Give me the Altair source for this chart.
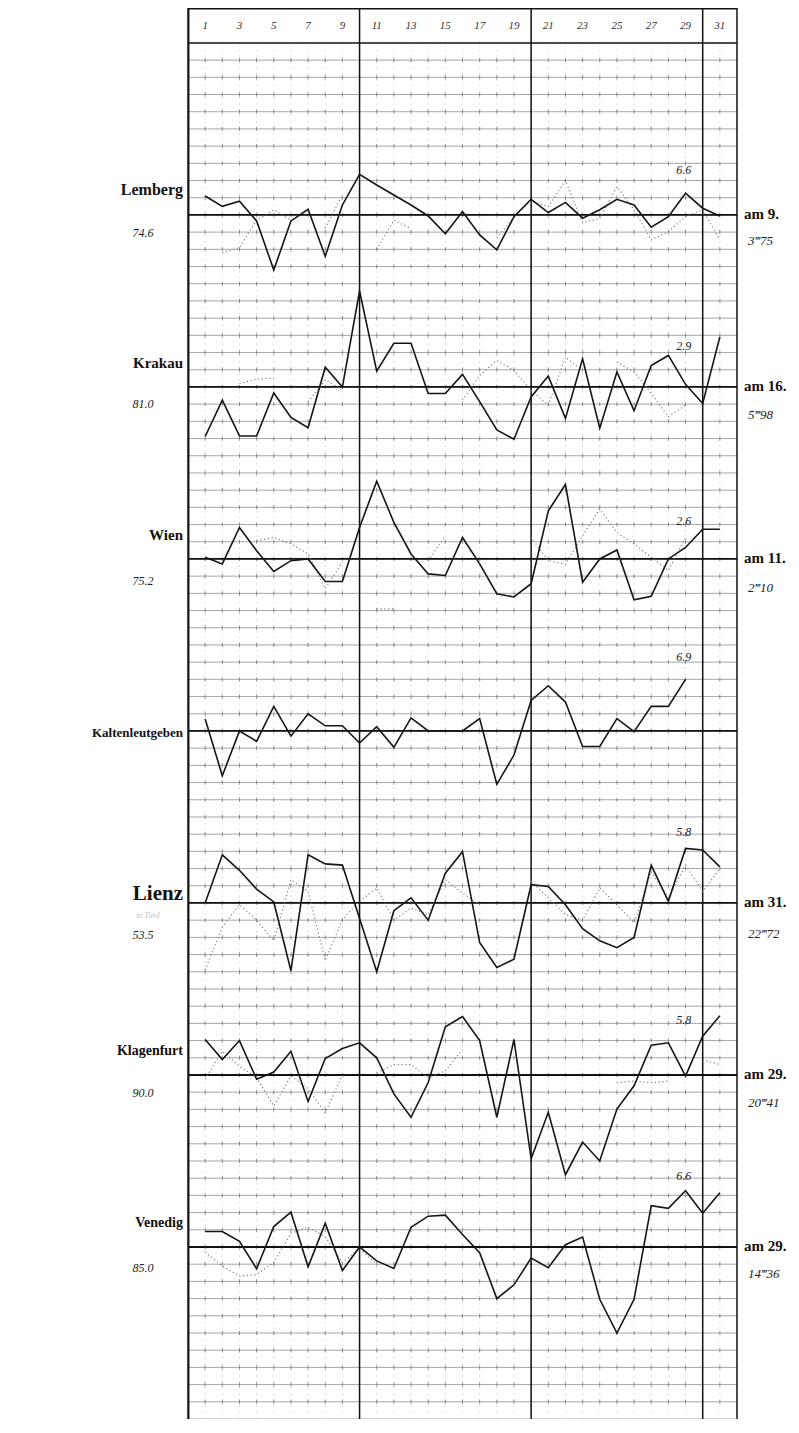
import altair as alt
import pandas as pd

# ---------------- data ----------------
days = list(range(1, 32))
header_days = list(range(1, 32, 2))
stations = ["Lemberg", "Krakau", "Wien", "Kaltenleutgeben", "Lienz", "Klagenfurt", "Venedig"]
means = ["74.6", "81.0", "75.2", "", "53.5", "90.0", "85.0"]
max_dates = ["am 9.", "am 16.", "am 11.", "", "am 31.", "am 29.", "am 29."]
max_totals = ["3\u203475", "5\u203498", "2\u203410", "", "22\u203472", "20\u203441", "14\u203436"]
peak_marks = ["6.6", "2.9", "2.6", "6.9", "5.8", "5.8", "6.6"]

# solid curves: deviation from the station's base line (grid units), days 1..31
lemberg = [1.1, 0.5, 0.8, -0.35, -3.2, -0.35, 0.33, -2.4, 0.58, 2.36, 1.74, 1.16, 0.58, -0.06, -1.1, 0.2,
           -1.16, -2.03, -0.1, 0.91, 0.14, 0.73, -0.19, 0.3, 0.91, 0.58, -0.71, -0.1, 1.26, 0.39, -0.06]
krakau = [-2.88, -0.77, -2.85, -2.85, -0.35, -1.77, -2.37, 1.15, 0.0, 5.58, 0.92, 2.54, 2.54, -0.38, -0.38, 0.73,
          -0.85, -2.5, -3.04, -0.58, 0.63, -1.83, 1.63, -2.4, 0.87, -1.38, 1.25, 1.83, 0.15, -0.96, 2.9]
wien = [0.1, -0.29, 1.83, 0.48, -0.73, -0.1, 0.0, -1.31, -1.31, 1.83, 4.52, 2.12, 0.29, -0.87, -0.96, 1.25,
        -0.29, -2.02, -2.21, -1.44, 2.79, 4.33, -1.35, 0.0, 0.52, -2.37, -2.17, 0.0, 0.67, 1.73, 1.73]
kalten = [0.69, -2.6, 0.0, -0.6, 1.43, -0.3, 1.0, 0.3, 0.3, -0.7, 0.25, -0.95, 0.76, 0.0, 0.0, 0.0,
          0.72, -3.1, -1.4, 1.77, 2.63, 1.68, -0.9, -0.9, 0.72, -0.04, 1.43, 1.43, 3.0, None, None]
lienz = [0.0, 2.8, 1.9, 0.8, 0.06, -3.94, 2.8, 2.27, 2.2, -0.9, -4.0, -0.45, 0.3, -1.0, 1.73, 2.98,
         -2.3, -3.75, -3.27, 1.06, 0.96, -0.1, -1.5, -2.2, -2.6, -2.0, 2.2, 0.1, 3.17, 3.08, 2.1]
klagenfurt = [2.06, 0.9, 2.0, -0.25, 0.17, 1.38, -1.54, 0.96, 1.54, 1.87, 1.0, -1.1, -2.46, -0.44, 2.8, 3.4,
              2.0, -2.46, 2.06, -4.87, -2.17, -5.8, -3.9, -5.0, -1.98, -0.63, 1.73, 1.87, -0.06, 2.25, 3.44]
venedig = [0.9, 0.9, 0.33, -1.27, 1.19, 2.02, -1.15, 1.38, -1.37, 0.0, -0.81, -1.25, 1.15, 1.79, 1.85, 0.73,
           -0.33, -3.0, -2.2, -0.65, -1.21, 0.13, 0.58, -3.04, -5.0, -3.04, 2.4, 2.25, 3.27, 1.96, 3.15]

# dotted curves (None = not drawn)
lemberg_d = [None, -2.2, -1.9, -0.3, 0.3, -0.3, None, -0.77, 1.16, None, -2.0, -0.3, -0.8, None, None, None,
             None, -1.35, -0.1, 0.8, 0.48, 2.0, -0.45, -0.2, 1.64, 0.3, -1.45, -0.97, -0.1, 0.3, -1.45]
krakau_d = [None, None, 0.2, 0.45, 0.5, None, -0.87, 0.4, -0.2, None, -1.0, None, None, None, None, -0.77,
            0.67, 1.54, 0.96, -0.2, -1.06, 1.73, 0.96, None, 1.44, 0.87, -0.38, -1.73, -1.06, None, -2.2]
wien_d = [0.1, None, None, 1.05, 1.25, 0.87, 0.29, -1.73, -0.19, None, -2.9, -2.9, None, -0.1, 1.35, None,
          None, None, None, 1.25, -0.1, -0.3, 1.35, 2.9, 1.54, 0.87, 0.1, -0.67, 1.25, None, None]
kalten_d = [None] * 31
lienz_d = [-3.9, -1.4, -0.1, -1.0, -2.2, 1.35, 0.67, -3.35, -0.96, 0.1, 0.87, -1.0, -0.3, -0.7, 1.35, 0.58,
           -0.1, None, None, 1.25, 0.3, -0.67, -1.0, 0.87, -0.1, -1.15, 1.83, 0.29, 2.2, 0.67, 2.0]
klagenfurt_d = [-0.25, 1.38, 0.5, -0.15, -1.8, -0.06, -0.8, -2.2, 0.0, None, 0.13, 0.6, 0.6, -0.15, 0.23, 1.48,
                None, None, None, None, -0.45, None, 0.8, None, -0.45, -0.35, -0.45, -0.35, None, 0.9, 0.6]
venedig_d = [-0.3, -1.1, -1.7, -1.6, -0.9, 0.8, 1.15, 0.6, -0.9, -0.1, -1.0, None, None, None, 0.4, None,
             None, -0.3, None, None, None, None, 1.0, None, 0.4, None, None, None, None, None, -1.3]

solid = [lemberg, krakau, wien, kalten, lienz, klagenfurt, venedig]
dotted = [lemberg_d, krakau_d, wien_d, kalten_d, lienz_d, klagenfurt_d, venedig_d]

# ---------------- layout ----------------
TOP = 82.03
W, H = 549, 1411
base = {s: 70 - 10 * i for i, s in enumerate(stations)}
name_off = {"Lemberg": 1.45, "Krakau": 1.4, "Wien": 1.4, "Kaltenleutgeben": -0.1,
            "Lienz": 0.5, "Klagenfurt": 1.4, "Venedig": 1.4}
name_fs = {"Lemberg": 16, "Krakau": 15, "Wien": 15, "Kaltenleutgeben": 13,
           "Lienz": 21, "Klagenfurt": 14, "Venedig": 14}
mean_off = {"Lemberg": -1.05, "Krakau": -1.0, "Wien": -1.3, "Lienz": -1.85, "Klagenfurt": -1.05, "Venedig": -1.2}
total_off = {"Lemberg": -1.5, "Krakau": -1.65, "Wien": -1.7, "Lienz": -1.8, "Klagenfurt": -1.6, "Venedig": -1.55}
peak_off = {"Lemberg": 2.6, "Krakau": 2.4, "Wien": 2.2, "Kaltenleutgeben": 4.3,
            "Lienz": 4.1, "Klagenfurt": 3.2, "Venedig": 4.1}

xs = alt.Scale(domain=[0, 32], nice=False, zero=False)
ys = alt.Scale(domain=[0, TOP], nice=False, zero=False)


def X(f="day"):
    return alt.X(f"{f}:Q", scale=xs, axis=None)


def Y(f="row"):
    return alt.Y(f"{f}:Q", scale=ys, axis=None)


def XD(v):
    return alt.X(datum=v, scale=xs, axis=None)


def long(series_list):
    rows = []
    for i, s in enumerate(stations):
        seg = 0
        prev = False
        for d, v in zip(days, series_list[i]):
            if v is None:
                if prev:
                    seg += 1
                prev = False
                continue
            prev = True
            rows.append({"station": s, "seg": f"{s}-{seg}", "day": d, "row": base[s] + v})
    return pd.DataFrame(rows)


df_solid = long(solid)
df_dot = long(dotted)

grid_rows = pd.DataFrame({"row": list(range(0, 80))})
base_rows = pd.DataFrame({"row": [base[s] for s in stations]})
frame_rows = pd.DataFrame({"row": [80, TOP - 0.05]})
day_cols = pd.DataFrame({"day": days})
thick_cols = pd.DataFrame({"day": [10, 20, 30, 32]})
left_col = pd.DataFrame({"day": [0.02]})
crosses = pd.DataFrame([{"day": d, "row": r} for d in days for r in range(1, 80)])

hgrid = alt.Chart(grid_rows).mark_rule(color="#6a6a6a", strokeWidth=0.6).encode(y=Y())
vgrid = alt.Chart(day_cols).mark_rule(color="#c4c4c4", strokeWidth=0.5, strokeDash=[2, 4]).encode(
    x=X(), y=alt.Y(datum=0, scale=ys, axis=None), y2=alt.Y2(datum=80))
cross = alt.Chart(crosses).mark_point(shape="M0,-1L0,1", size=18, stroke="#666", strokeWidth=0.7,
                                      filled=False, opacity=1).encode(x=X(), y=Y())
baselines = alt.Chart(base_rows).mark_rule(color="#111", strokeWidth=1.8).encode(y=Y())
frame_h = alt.Chart(frame_rows).mark_rule(color="#111", strokeWidth=1.5).encode(y=Y())
vthick = alt.Chart(thick_cols).mark_rule(color="#111", strokeWidth=1.5).encode(x=X())
vleft = alt.Chart(left_col).mark_rule(color="#111", strokeWidth=2.2).encode(x=X())

dots = alt.Chart(df_dot).mark_line(color="#777", strokeWidth=1.1, strokeDash=[1.2, 2.6]).encode(
    x=X(), y=Y(), detail="seg:N")
lines = alt.Chart(df_solid).mark_line(color="#151515", strokeWidth=1.6).encode(
    x=X(), y=Y(), detail="station:N")

header = alt.Chart(pd.DataFrame({"day": header_days, "lab": [str(d) for d in header_days], "row": 81.0})
                   ).mark_text(font="Liberation Serif", fontStyle="italic", fontSize=11, color="#333",
                               baseline="middle").encode(x=X(), y=Y(), text="lab:N")

names_df = pd.DataFrame({"station": stations,
                         "row": [base[s] + name_off[s] for s in stations],
                         "fs": [name_fs[s] for s in stations]})
names = alt.Chart(names_df).mark_text(font="Liberation Serif", fontWeight="bold", align="right",
                                      baseline="middle", dx=-5, color="#111").encode(
    x=XD(0), y=Y(), text="station:N", size=alt.Size("fs:Q", scale=None, legend=None))

mean_df = pd.DataFrame([{"lab": m, "row": base[s] + mean_off[s]}
                        for s, m in zip(stations, means) if m])
mean_txt = alt.Chart(mean_df).mark_text(font="Liberation Serif", fontStyle="italic", fontSize=12,
                                        align="center", baseline="middle", dx=-45, color="#222").encode(
    x=XD(0), y=Y(), text="lab:N")
tirol = alt.Chart(pd.DataFrame({"lab": ["in Tirol"], "row": [base["Lienz"] - 0.75]})).mark_text(
    font="Liberation Serif", fontStyle="italic", fontSize=8, color="#bbb", align="center",
    baseline="middle", dx=-40).encode(x=XD(0), y=Y(), text="lab:N")

date_df = pd.DataFrame([{"lab": m, "row": base[s] + 0.05}
                        for s, m in zip(stations, max_dates) if m])
date_txt = alt.Chart(date_df).mark_text(font="Liberation Serif", fontWeight="bold", fontSize=15,
                                        align="left", baseline="middle", dx=7, color="#111").encode(
    x=XD(32), y=Y(), text="lab:N")
tot_df = pd.DataFrame([{"lab": m, "row": base[s] + total_off[s]}
                       for s, m in zip(stations, max_totals) if m])
tot_txt = alt.Chart(tot_df).mark_text(font="Liberation Serif", fontStyle="italic", fontSize=13,
                                      align="left", baseline="middle", dx=11, color="#222").encode(
    x=XD(32), y=Y(), text="lab:N")
peak_df = pd.DataFrame([{"lab": m, "row": base[s] + peak_off[s]}
                        for s, m in zip(stations, peak_marks)])
peak_txt = alt.Chart(peak_df).mark_text(font="Liberation Serif", fontStyle="italic", fontSize=12,
                                        align="center", baseline="middle", color="#222").encode(
    x=XD(28.9), y=Y(), text="lab:N")

chart = alt.layer(
    hgrid, vgrid, cross, baselines, frame_h, vthick, vleft, dots, lines,
    header, names, mean_txt, tirol, date_txt, tot_txt, peak_txt
).properties(
    width=W, height=H,
    autosize=alt.AutoSizeParams(type="none"),
    padding={"left": 180, "top": 0, "right": 54, "bottom": 0},
    background="white",
).configure_view(stroke=None)

chart.save("out.html", embed_options={"renderer": "svg", "actions": False})
